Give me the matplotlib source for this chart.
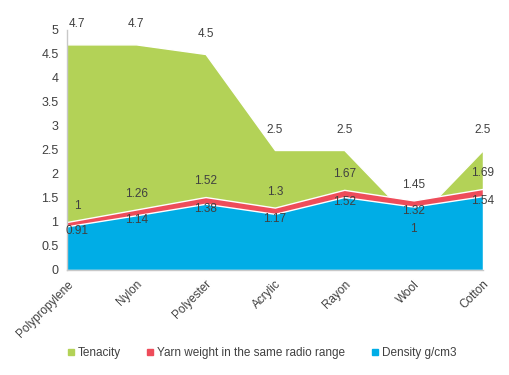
import matplotlib
matplotlib.use("Agg")
import matplotlib.pyplot as plt
from matplotlib.lines import Line2D

categories = ["Polypropylene", "Nylon", "Polyester", "Acrylic", "Rayon", "Wool", "Cotton"]
tenacity = [4.7, 4.7, 4.5, 2.5, 2.5, 1, 2.5]
yarn_weight = [1, 1.26, 1.52, 1.3, 1.67, 1.45, 1.69]
density = [0.91, 1.14, 1.38, 1.17, 1.52, 1.32, 1.54]

GREEN = "#B3D257"
RED = "#EE4C5A"
BLUE = "#00ADE6"
TXT = "#404040"

plt.rcParams["font.family"] = ["Liberation Sans", "DejaVu Sans"]

fig = plt.figure(figsize=(5.1, 3.75), dpi=100)
ax = fig.add_axes([0.131, 0.28, 0.816, 0.64])
x = list(range(len(categories)))

series = [("Tenacity", tenacity, GREEN, 0.42),
          ("Yarn weight in the same radio range", yarn_weight, RED, 0.33),
          ("Density g/cm3", density, BLUE, -0.1)]
for name, vals, col, _ in series:
    ax.fill_between(x, 0, vals, color=col, edgecolor="white", lw=1.0, zorder=2)

def fmt(v):
    return f"{v:g}"

# data labels; a tenacity value hidden behind the red area gets its label below
for name, vals, col, off in series:
    for i, v in enumerate(vals):
        o = off
        if name == "Tenacity" and v < yarn_weight[i]:
            o = -0.15
        dx = 0.15 if i == 0 else 0
        ax.text(i + dx, v + o, fmt(v), ha="center", va="center",
                fontsize=8.5, color=TXT, zorder=5)

ax.set_xlim(0, len(categories) - 1)
ax.set_ylim(0, 5)
ax.set_yticks([k * 0.5 for k in range(11)])
ax.set_yticklabels([fmt(k * 0.5) for k in range(11)])
ax.set_xticks(x)
ax.set_xticklabels(categories, rotation=45, ha="right", rotation_mode="anchor")
ax.tick_params(length=0, labelsize=8.5, colors=TXT, pad=6)
ax.tick_params(axis="y", labelsize=9)
for s in ["top", "right"]:
    ax.spines[s].set_visible(False)
for s in ["left", "bottom"]:
    ax.spines[s].set_color("#C8C8C8")
    ax.spines[s].set_linewidth(1.0)

handles = [Line2D([], [], marker="s", ls="", color=c, markersize=4) for _, _, c, _ in series]
fig.legend(handles, [s[0] for s in series], loc="center", bbox_to_anchor=(0.512, 0.058),
           ncol=3, frameon=False, fontsize=8.5, handletextpad=0.2, columnspacing=2.1,
           handlelength=0.8, labelcolor=TXT)

fig.savefig("out.png", dpi=100)
